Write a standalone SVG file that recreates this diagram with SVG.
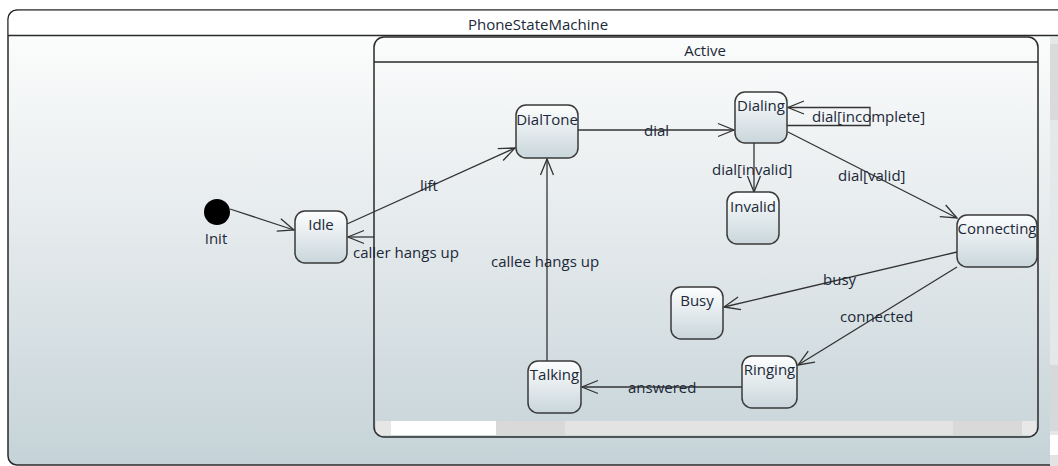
<svg xmlns="http://www.w3.org/2000/svg" width="1058" height="466" viewBox="0 0 1058 466">
<defs>
<linearGradient id="bg" gradientUnits="userSpaceOnUse" x1="0" y1="36" x2="0" y2="465">
<stop offset="0" stop-color="#fbfcfc"/>
<stop offset="0.45" stop-color="#e5eaec"/>
<stop offset="1" stop-color="#c5d3d8"/>
</linearGradient>
<linearGradient id="ng" x1="0" y1="0" x2="0" y2="1">
<stop offset="0" stop-color="#fdfefe"/>
<stop offset="1" stop-color="#c9d6db"/>
</linearGradient>
<marker id="ah" markerUnits="userSpaceOnUse" markerWidth="20" markerHeight="16" viewBox="-18 -8 20 16" refX="0" refY="0" orient="auto">
<path d="M-16,-6.5 L0,0 L-16,6.5" fill="none" stroke="#333" stroke-width="1.3"/>
</marker>
<style>
.t{font-family:"Open Sans","Noto Sans",sans-serif;font-size:15px;fill:#202838}
.c{text-anchor:middle}
.n{fill:url(#ng);stroke:#3a3a3a;stroke-width:1.5}
.e{fill:none;stroke:#333;stroke-width:1.3;marker-end:url(#ah)}
</style>
</defs>

<g id="PhoneStateMachine">
<rect x="8" y="10" width="1080" height="455" rx="9" fill="url(#bg)" stroke="#2a2a2a" stroke-width="1.5"/>
<path d="M8.75,35.5 V19 a9,9 0 0 1 9,-8.25 H1058 V35.5 Z" fill="#ffffff"/>
<line x1="8" y1="35.5" x2="1058" y2="35.5" stroke="#2a2a2a" stroke-width="1.5"/>
<text class="t c" x="538" y="30">PhoneStateMachine</text>
<rect x="1050" y="37" width="8" height="398" fill="#e5e8e9"/>
<rect x="1050" y="44" width="8" height="76" fill="#dadada"/>
<rect x="1050" y="365" width="8" height="66" fill="#d6d8d9"/>
<rect x="1050" y="435" width="8" height="20" fill="#ffffff"/>
<rect x="1050" y="455" width="8" height="11" fill="#e3e3e3"/>
</g>

<g id="Active">
<rect x="376" y="421" width="15" height="14" fill="#e6e6e6"/>
<rect x="391" y="421" width="105" height="14" fill="#ffffff"/>
<rect x="496" y="421" width="69" height="14" fill="#d9d9d9"/>
<rect x="565" y="421" width="388" height="14" fill="#e3e3e3"/>
<rect x="953" y="421" width="69" height="14" fill="#d9d9d9"/>
<rect x="1022" y="421" width="14" height="14" fill="#e8e8e8"/>
<rect x="374" y="37" width="664" height="400" rx="10" fill="none" stroke="#2a2a2a" stroke-width="1.5"/>
<line x1="374" y1="62" x2="1038" y2="62" stroke="#2a2a2a" stroke-width="1.5"/>
<text class="t c" x="705" y="56">Active</text>
</g>

<g id="connectors">
<path class="e" d="M230,209 L294,230"/>
<path class="e" d="M347,224 L515,148"/>
<path class="e" d="M374,237 L348,237"/>
<path class="e" d="M578,130 L734,130"/>
<path class="e" d="M787,125.5 H870 V107.5 H788"/>
<path class="e" d="M754,143 L754,192"/>
<path class="e" d="M788,132 L957,218"/>
<path class="e" d="M957,252 L724,307"/>
<path class="e" d="M957,267 L798,365"/>
<path class="e" d="M742,387 L582,387"/>
<path class="e" d="M547,361 L547,159"/>
<text class="t" x="420" y="191">lift</text>
<text class="t" x="353" y="258">caller hangs up</text>
<text class="t" x="644" y="136">dial</text>
<text class="t" x="812" y="122">dial[incomplete]</text>
<text class="t" x="712" y="175">dial[invalid]</text>
<text class="t" x="838" y="181">dial[valid]</text>
<text class="t" x="823" y="285">busy</text>
<text class="t" x="840" y="322">connected</text>
<text class="t" x="628" y="393">answered</text>
<text class="t" x="491" y="267">callee hangs up</text>
</g>

<g id="Init">
<circle cx="217" cy="212" r="13" fill="#000"/>
<text class="t c" x="216" y="244">Init</text>
</g>
<g id="Idle">
<rect class="n" x="295" y="211" width="52" height="52" rx="10"/>
<text class="t c" x="321" y="230">Idle</text>
</g>
<g id="DialTone">
<rect class="n" x="516" y="105" width="62" height="53" rx="10"/>
<text class="t c" x="547" y="125">DialTone</text>
</g>
<g id="Dialing">
<rect class="n" x="735" y="92" width="52" height="51" rx="10"/>
<text class="t c" x="761" y="111">Dialing</text>
</g>
<g id="Invalid">
<rect class="n" x="727" y="192" width="52" height="52" rx="10"/>
<text class="t c" x="753" y="212">Invalid</text>
</g>
<g id="Connecting">
<rect class="n" x="957" y="215" width="80" height="52" rx="10"/>
<text class="t c" x="997" y="234">Connecting</text>
</g>
<g id="Busy">
<rect class="n" x="671" y="287" width="52" height="52" rx="10"/>
<text class="t c" x="697" y="306">Busy</text>
</g>
<g id="Ringing">
<rect class="n" x="742" y="356" width="55" height="52" rx="10"/>
<text class="t c" x="769.5" y="375">Ringing</text>
</g>
<g id="Talking">
<rect class="n" x="528" y="361" width="53" height="52" rx="10"/>
<text class="t c" x="554.5" y="380">Talking</text>
</g>
</svg>
